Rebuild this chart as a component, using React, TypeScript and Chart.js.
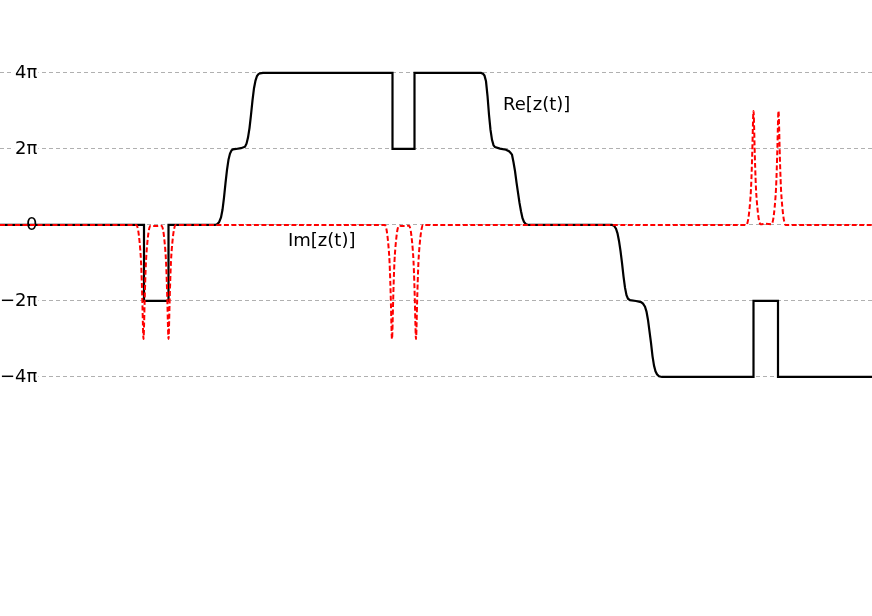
import React, { useEffect, useRef } from "react";
import { Chart, registerables } from "chart.js";

Chart.register(...registerables);

// Axis (values in units of π)
const yMin = -10.29;
const yMax = 5.92;
const xMin = 0;
const xMax = 872;
const yTickValues = [-4, -2, 0, 2, 4];
const yTickLabels = ["−4π", "−2π", "0", "2π", "4π"];

// Re[z(t)] — black solid
const reT = [
  0, 144, 144, 168.5, 168.5, 215, 217, 219, 221, 222.5, 224, 225.5, 227, 228.5, 230, 231.5, 233, 236, 241, 245,
  246.5, 248, 249.5, 251, 252.5, 254, 255.5, 257, 258.5, 260, 263, 392.5, 392.5, 414.5, 414.5, 481, 483, 484.5,
  486, 487.5, 489, 490.5, 492, 493.5, 495, 500, 506, 509, 510.5, 512, 513.5, 515, 516.5, 518, 519.5, 521, 522.5,
  524, 526, 529, 612, 614, 616, 617.5, 619, 620.5, 622, 623.5, 625, 626.5, 628, 630, 636, 641, 643, 645, 646.5,
  648, 649.5, 651, 652.5, 654, 655.5, 657, 659, 662, 753.5, 753.5, 778, 778, 872,
];
const reV = [
  0, 0, -2, -2, 0, 0, 0.02, 0.07, 0.2, 0.4, 0.72, 1.1, 1.45, 1.72, 1.88, 1.96, 1.99, 2.0, 2.02, 2.06,
  2.14, 2.3, 2.55, 2.9, 3.28, 3.6, 3.8, 3.92, 3.97, 3.99, 4.0, 4.0, 2.0, 2.0, 4.0, 4.0, 3.98, 3.93,
  3.78, 3.4, 2.9, 2.5, 2.24, 2.1, 2.05, 2.01, 1.98, 1.94, 1.9, 1.85, 1.65, 1.42, 1.12, 0.85, 0.58, 0.36, 0.18,
  0.08, 0.02, 0, 0, -0.02, -0.1, -0.22, -0.42, -0.68, -1.0, -1.35, -1.65, -1.85, -1.94, -1.98, -2.0, -2.03, -2.07, -2.15, -2.28,
  -2.5, -2.8, -3.1, -3.45, -3.7, -3.85, -3.93, -3.98, -4.0, -4.0, -2.0, -2.0, -4.0, -4.0,
];

// Im[z(t)] — red dashed
const imT = [
  0,
  136.5, 138, 139, 140.2, 141, 141.8, 142.4, 142.9, 143.25, 143.5, 143.75, 144.1, 144.6, 145.2, 146, 146.8, 148, 149, 150.5,
  156,
  161.5, 163, 164, 165.2, 166, 166.8, 167.4, 167.9, 168.25, 168.5, 168.75, 169.1, 169.6, 170.2, 171, 171.8, 173, 174, 175.5,
  385, 386.5, 387.5, 388.7, 389.5, 390.3, 390.9, 391.4, 391.75, 392, 392.25, 392.6, 393.1, 393.7, 394.5, 395.3, 396.5, 397.5, 399,
  404,
  409, 410.5, 411.5, 412.7, 413.5, 414.3, 414.9, 415.4, 415.75, 416, 416.25, 416.6, 417.1, 417.7, 418.5, 419.3, 420.5, 421.5, 423,
  746.5, 748, 749, 750.2, 751, 751.8, 752.4, 752.9, 753.25, 753.5, 753.75, 754.1, 754.6, 755.2, 756, 756.8, 758, 759, 760.5,
  766,
  771.5, 773, 774, 775.2, 776, 776.8, 777.4, 777.9, 778.25, 778.5, 778.75, 779.1, 779.6, 780.2, 781, 781.8, 783, 784, 785.5,
  872,
];
const imV = [
  0,
  0, -0.12, -0.3, -0.63, -0.95, -1.5, -2.05, -2.6, -2.92, -3.0, -2.92, -2.6, -2.05, -1.5, -0.95, -0.63, -0.3, -0.12, -0.02,
  -0.03,
  -0.02, -0.12, -0.3, -0.63, -0.95, -1.5, -2.05, -2.6, -2.92, -3.0, -2.92, -2.6, -2.05, -1.5, -0.95, -0.63, -0.3, -0.12, 0,
  0, -0.12, -0.3, -0.63, -0.95, -1.5, -2.05, -2.6, -2.92, -3.0, -2.92, -2.6, -2.05, -1.5, -0.95, -0.63, -0.3, -0.12, -0.02,
  -0.03,
  -0.02, -0.12, -0.3, -0.63, -0.95, -1.5, -2.05, -2.6, -2.92, -3.0, -2.92, -2.6, -2.05, -1.5, -0.95, -0.63, -0.3, -0.12, 0,
  0, 0.12, 0.3, 0.63, 0.95, 1.5, 2.05, 2.6, 2.92, 3.0, 2.92, 2.6, 2.05, 1.5, 0.95, 0.63, 0.3, 0.12, 0.02,
  0.03,
  0.02, 0.12, 0.3, 0.63, 0.95, 1.5, 2.05, 2.6, 2.92, 3.0, 2.92, 2.6, 2.05, 1.5, 0.95, 0.63, 0.3, 0.12, 0,
  0,
];

// Text annotations (anchor in data coordinates: t, value in π)
const annotationTexts = ["Re[z(t)]", "Im[z(t)]"];
const annotationX = [503, 288];
const annotationY = [3.03, -0.553];

const FONT = "'DejaVu Sans', sans-serif";

export default function App() {
  const canvasRef = useRef<HTMLCanvasElement | null>(null);

  useEffect(() => {
    const canvas = canvasRef.current;
    if (!canvas) return;
    Chart.defaults.font.family = FONT;

    const annotationPlugin = {
      id: "annotations",
      afterDatasetsDraw(chart: any) {
        const ctx = chart.ctx;
        const xs = chart.scales.x;
        const ys = chart.scales.y;
        ctx.save();
        ctx.font = `18px ${FONT}`;
        ctx.fillStyle = "#000";
        ctx.textAlign = "left";
        ctx.textBaseline = "alphabetic";
        annotationTexts.forEach((t, i) => {
          ctx.fillText(t, xs.getPixelForValue(annotationX[i]), ys.getPixelForValue(annotationY[i]));
        });
        ctx.restore();
      },
    };

    const chart = new Chart(canvas, {
      type: "line",
      data: {
        datasets: [
          {
            label: "Re[z(t)]",
            data: reT.map((t, i) => ({ x: t, y: reV[i] })),
            borderColor: "#000000",
            borderWidth: 2.2,
            pointRadius: 0,
            tension: 0,
            fill: false,
            order: 1,
          },
          {
            label: "Im[z(t)]",
            data: imT.map((t, i) => ({ x: t, y: imV[i] })),
            borderColor: "#ff0000",
            borderWidth: 2,
            borderDash: [5, 2.5],
            pointRadius: 0,
            cubicInterpolationMode: "monotone",
            fill: false,
            order: 0,
          },
        ],
      },
      options: {
        responsive: false,
        animation: false,
        layout: { padding: 0 },
        plugins: {
          legend: { display: false },
          tooltip: { enabled: false },
          title: { display: false },
        },
        scales: {
          x: {
            type: "linear",
            min: xMin,
            max: xMax,
            display: false,
          },
          y: {
            type: "linear",
            position: "left",
            min: yMin,
            max: yMax,
            afterBuildTicks: (scale: any) => {
              scale.ticks = yTickValues.map((v) => ({ value: v }));
            },
            afterFit: (scale: any) => {
              scale.width = 0;
              scale.paddingTop = 0;
              scale.paddingBottom = 0;
            },
            grid: {
              color: "#b0b0b0",
              lineWidth: 1,
              drawTicks: false,
            },
            border: { display: false, dash: [4, 3] },
            ticks: {
              mirror: true,
              crossAlign: "far",
              padding: 0,
              color: "#000000",
              font: { size: 18, family: FONT },
              showLabelBackdrop: true,
              backdropColor: "#ffffff",
              backdropPadding: { left: 1, right: 1, top: 0, bottom: 0 },
              callback: (v: any) => {
                const i = yTickValues.indexOf(Number(v));
                return i >= 0 ? yTickLabels[i] : "";
              },
            },
          },
        },
      },
      plugins: [annotationPlugin],
    });

    return () => chart.destroy();
  }, []);

  return (
    <div style={{ position: "absolute", left: 0, top: 0, width: 872, height: 616, background: "#fff" }}>
      <canvas ref={canvasRef} width={872} height={616} style={{ display: "block", width: 872, height: 616 }} />
    </div>
  );
}
